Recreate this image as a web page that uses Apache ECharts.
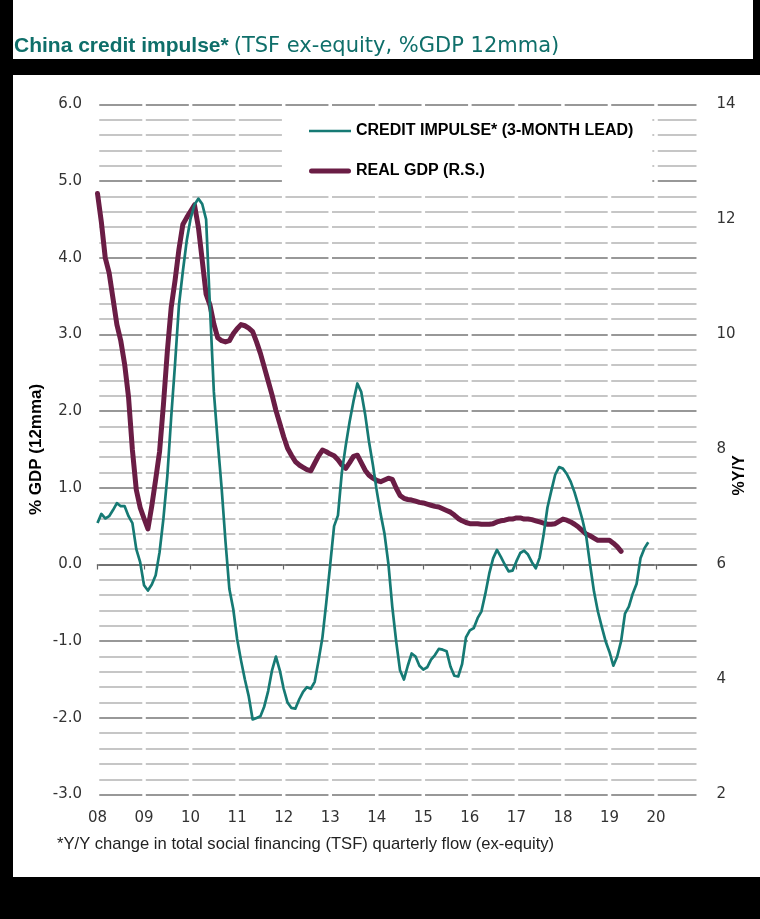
<!DOCTYPE html>
<html lang="en">
<head>
<meta charset="UTF-8" />
<title>China credit impulse</title>
<style>
  html, body { margin: 0; padding: 0; background: #000; }
  #main { width: 760px; height: 919px; }
</style>
</head>
<body>
<div id="main"></div>
<script src="https://cdn.jsdelivr.net/npm/echarts@6/dist/echarts.min.js"></script>
<script>
// monthly series, first value = Jan 2008
var startYear = 2008;

// credit impulse, % GDP (12mma), Jan 2008 - Nov 2019
var creditImpulse = [
  0.54, 0.66, 0.60, 0.63, 0.71, 0.80, 0.76, 0.76, 0.63, 0.54, 0.20, 0.03,
  -0.27, -0.34, -0.26, -0.14, 0.16, 0.60, 1.15, 1.92, 2.62, 3.38, 3.82, 4.22,
  4.51, 4.69, 4.77, 4.70, 4.50, 3.35, 2.25, 1.60, 1.00, 0.30, -0.32, -0.58,
  -0.97, -1.25, -1.50, -1.72, -2.02, -2.00, -1.98, -1.85, -1.65, -1.38, -1.20, -1.38,
  -1.62, -1.80, -1.87, -1.88, -1.76, -1.66, -1.60, -1.62, -1.53, -1.25, -0.95, -0.49,
  0.00, 0.50, 0.64, 1.20, 1.55, 1.86, 2.13, 2.36, 2.25, 1.96, 1.60, 1.30,
  0.96, 0.66, 0.40, 0.01, -0.55, -1.00, -1.38, -1.50, -1.32, -1.16, -1.20, -1.32,
  -1.37, -1.34, -1.24, -1.18, -1.10, -1.11, -1.13, -1.33, -1.45, -1.46, -1.30, -0.95,
  -0.86, -0.83, -0.70, -0.61, -0.38, -0.12, 0.08, 0.19, 0.10, 0.00, -0.09, -0.08,
  0.04, 0.15, 0.18, 0.13, 0.03, -0.05, 0.09, 0.38, 0.74, 0.96, 1.17, 1.27,
  1.25, 1.18, 1.08, 0.94, 0.77, 0.59, 0.37, 0.00, -0.35, -0.61, -0.81, -1.00,
  -1.14, -1.32, -1.20, -1.00, -0.64, -0.55, -0.38, -0.25, 0.08, 0.21, 0.29
];

// real GDP %Y/Y (right scale), Jan 2008 - Apr 2019
var realGdp = [
  12.45, 11.95, 11.33, 11.07, 10.62, 10.17, 9.89, 9.48, 8.91, 7.99, 7.30, 6.99,
  6.80, 6.62, 7.02, 7.48, 7.96, 8.78, 9.70, 10.47, 10.94, 11.48, 11.91, 12.03,
  12.14, 12.25, 11.87, 11.29, 10.70, 10.51, 10.18, 9.94, 9.89, 9.87, 9.89, 10.01,
  10.10, 10.17, 10.15, 10.11, 10.05, 9.87, 9.67, 9.43, 9.19, 8.95, 8.68, 8.45,
  8.22, 8.02, 7.90, 7.79, 7.73, 7.69, 7.65, 7.63, 7.76, 7.89, 7.99, 7.96,
  7.92, 7.89, 7.82, 7.73, 7.67, 7.77, 7.88, 7.90, 7.77, 7.64, 7.55, 7.50,
  7.46, 7.44, 7.47, 7.50, 7.48, 7.33, 7.20, 7.15, 7.13, 7.12, 7.10, 7.08,
  7.07, 7.05, 7.03, 7.01, 7.00, 6.97, 6.94, 6.91, 6.86, 6.80, 6.76, 6.73,
  6.71, 6.71, 6.71, 6.70, 6.70, 6.70, 6.71, 6.74, 6.76, 6.77, 6.79, 6.79,
  6.81, 6.81, 6.79, 6.79, 6.78, 6.76, 6.74, 6.72, 6.70, 6.70, 6.71, 6.75,
  6.79, 6.77, 6.74, 6.70, 6.65, 6.59, 6.53, 6.50, 6.46, 6.42, 6.42, 6.42,
  6.42, 6.37, 6.31, 6.23
];

var yearTicks = [2008, 2009, 2010, 2011, 2012, 2013, 2014, 2015, 2016, 2017, 2018, 2019, 2020];
var yearLabels = ['08', '09', '10', '11', '12', '13', '14', '15', '16', '17', '18', '19', '20'];

var titleBold = 'China credit impulse*';
var titleRest = '(TSF ex-equity, %GDP 12mma)';
var footnote = '*Y/Y change in total social financing (TSF) quarterly flow (ex-equity)';
var ciName = 'CREDIT IMPULSE* (3-MONTH LEAD)';
var gdpName = 'REAL GDP (R.S.)';

var teal = '#167a74';
var maroon = '#6a1d45';
var labelFont = 'DejaVu Sans';

// horizontal grid lines are broken at every year boundary
var gridLeft = 97.5, gridRight = 63.5;
var xMax = 2020.87;
var pxPerYear = (760 - gridLeft - gridRight) / (xMax - startYear);
var gapW = 3.5;
var gridDash = [pxPerYear - gapW, gapW];
var gridDashOffset = pxPerYear - gapW / 2;

function monthly(values) {
  return values.map(function (v, i) {
    return [startYear + i / 12, v];
  });
}

var chart = echarts.init(document.getElementById('main'));

var option = {
  backgroundColor: '#000',
  animation: false,
  graphic: [
    { type: 'rect', z: -100, shape: { x: 13, y: 0, width: 740, height: 59 }, style: { fill: '#fff' } },
    { type: 'rect', z: -100, shape: { x: 13, y: 75, width: 747, height: 802 }, style: { fill: '#fff' } },
    {
      type: 'text', left: 57, top: 836,
      style: { text: footnote, font: '16.6px "Liberation Sans"', fill: '#222' }
    }
  ],
  title: {
    left: 14,
    top: 36,
    padding: 0,
    text: '{b|' + titleBold + '} {n|' + titleRest + '}',
    textStyle: {
      rich: {
        b: { fontFamily: 'Liberation Sans', fontWeight: 'bold', fontSize: 21, color: '#0f6f6a' },
        n: { fontFamily: 'DejaVu Sans', fontWeight: 'normal', fontSize: 21, color: '#0f6f6a' }
      }
    }
  },
  legend: {
    orient: 'vertical',
    left: 282,
    top: 112,
    padding: [11, 19, 14, 27],
    backgroundColor: '#fff',
    itemWidth: 42,
    itemHeight: 14,
    itemGap: 24,
    data: [
      { name: ciName, icon: 'path://M0,0h42v2.7h-42z' },
      { name: gdpName, icon: 'path://M2.5,0h37a2.5,2.5 0 0 1 0,5h-37a2.5,2.5 0 0 1 0,-5z' }
    ],
    textStyle: { fontFamily: 'Liberation Sans', fontWeight: 'bold', fontSize: 16, color: '#000' }
  },
  grid: {
    left: gridLeft, right: gridRight, top: 104.3, bottom: 124.4,
    containLabel: false,
    outerBoundsMode: 'none'
  },
  xAxis: [
    {
      type: 'value',
      min: startYear,
      max: xMax,
      interval: 1,
      position: 'bottom',
      axisLine: { show: false, onZero: false },
      axisTick: { show: false },
      splitLine: { show: false },
      axisLabel: {
        margin: 16,
        fontFamily: labelFont,
        fontSize: 15,
        color: '#333',
        formatter: function (v) {
          var i = yearTicks.indexOf(v);
          return i >= 0 ? yearLabels[i] : '';
        }
      }
    },
    {
      // zero line with year ticks
      type: 'value',
      min: startYear,
      max: xMax,
      interval: 1,
      position: 'top',
      axisLine: { show: true, onZero: true, onZeroAxisIndex: 0, lineStyle: { color: '#666', width: 1.5 } },
      axisTick: { show: true, inside: true, length: 5, customValues: yearTicks, lineStyle: { color: '#666', width: 1.2 } },
      axisLabel: { show: false },
      splitLine: { show: false }
    }
  ],
  yAxis: [
    {
      type: 'value',
      min: -3,
      max: 6,
      interval: 1,
      name: '% GDP (12mma)',
      nameLocation: 'middle',
      nameGap: 53,
      nameMoveOverlap: false,
      nameTextStyle: { fontFamily: 'Liberation Sans', fontWeight: 'bold', fontSize: 17, color: '#000' },
      axisLine: { show: false, onZero: false },
      axisTick: { show: false },
      axisLabel: {
        margin: 15.5,
        fontFamily: labelFont,
        fontSize: 15,
        color: '#333',
        formatter: function (v) { return v.toFixed(1); }
      },
      splitLine: {
        show: true,
        lineStyle: { color: '#777', width: 1.5, type: gridDash, dashOffset: gridDashOffset }
      },
      minorTick: { show: false, splitNumber: 5 },
      minorSplitLine: {
        show: true,
        lineStyle: { color: '#b4b4b4', width: 1.5, type: gridDash, dashOffset: gridDashOffset }
      }
    },
    {
      type: 'value',
      min: 2,
      max: 14,
      interval: 2,
      position: 'right',
      name: '%Y/Y',
      nameLocation: 'middle',
      nameGap: 35,
      nameMoveOverlap: false,
      nameRotate: 90,
      nameTextStyle: {
        fontFamily: 'Liberation Sans', fontWeight: 'bold', fontSize: 16, color: '#000',
        padding: [0, 52, 0, 0]
      },
      axisLine: { show: false, onZero: false },
      axisTick: { show: false },
      splitLine: { show: false },
      axisLabel: { margin: 20, fontFamily: labelFont, fontSize: 15, color: '#333' }
    }
  ],
  series: [
    {
      name: gdpName,
      type: 'line',
      yAxisIndex: 1,
      symbol: 'none',
      z: 3,
      lineStyle: { color: maroon, width: 5, join: 'round', cap: 'round' },
      itemStyle: { color: maroon },
      data: monthly(realGdp)
    },
    {
      name: ciName,
      type: 'line',
      yAxisIndex: 0,
      symbol: 'none',
      z: 4,
      lineStyle: { color: teal, width: 2.7, join: 'round' },
      itemStyle: { color: teal },
      data: monthly(creditImpulse)
    }
  ]
};

chart.setOption(option);
</script>
</body>
</html>
